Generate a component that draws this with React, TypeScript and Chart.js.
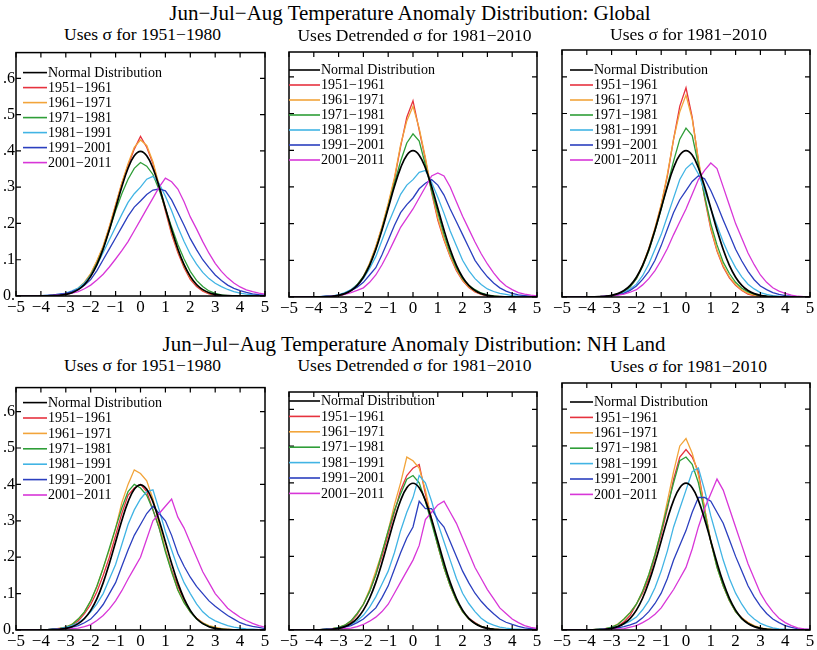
import React, { useEffect, useRef } from "react";
import { Chart, registerables } from "chart.js";

Chart.register(...registerables);

const SERIF = "'Liberation Serif', 'Times New Roman', serif";

const X = [-5,-4.75,-4.5,-4.25,-4,-3.75,-3.5,-3.25,-3,-2.75,-2.5,-2.25,-2,-1.75,-1.5,-1.25,-1,-0.75,-0.5,-0.25,0,0.25,0.5,0.75,1,1.25,1.5,1.75,2,2.25,2.5,2.75,3,3.25,3.5,3.75,4,4.25,4.5,4.75,5];
const X_TICKS = [-5,-4,-3,-2,-1,0,1,2,3,4,5];
const Y_TICKS = [0,0.1,0.2,0.3,0.4,0.5,0.6];

const LABELS = ["Normal Distribution","1951\u22121961","1961\u22121971","1971\u22121981","1981\u22121991","1991\u22122001","2001\u22122011"];
const COLORS = ["#000000","#e6323e","#f2a43a","#2f9e38","#41b4e4","#2b3fbf","#d836d8"];

const NORMAL = [0,0,0,0,0.0001,0.0004,0.0009,0.002, 0.0044,0.0091,0.0175,0.0317,0.054,0.0863,0.1295,0.1826,0.242,0.3011,0.3521,0.3867,0.3989,0.3867,0.3521,0.3011,0.242,0.1826,0.1295,0.0863,0.054,0.0317,0.0175,0.0091,0.0044, 0.002,0.0009,0.0004,0.0001,0,0,0,0];

// Global, sigma 1951-1980
const G1_1951 = [0,0,0,0,0,0.001,0.002,0.003, 0.005,0.01,0.02,0.036,0.06,0.095,0.135,0.19,0.25,0.31,0.36,0.405,0.44,0.41,0.365,0.3,0.235,0.17,0.12,0.078,0.046,0.026,0.013,0.006,0.002, 0,0,0,0,0,0,0,0];
const G1_1961 = [0,0,0,0,0,0.001,0.002,0.003, 0.006,0.012,0.022,0.038,0.062,0.097,0.138,0.192,0.252,0.312,0.365,0.41,0.43,0.415,0.37,0.305,0.24,0.175,0.125,0.082,0.05,0.03,0.016,0.008,0.004, 0.002,0.001,0,0,0,0,0,0];
const G1_1971 = [0,0,0,0,0,0.001,0.002,0.003, 0.005,0.01,0.02,0.035,0.058,0.09,0.13,0.182,0.235,0.282,0.322,0.352,0.368,0.358,0.335,0.292,0.242,0.19,0.142,0.102,0.068,0.043,0.026,0.014,0.007, 0.003,0.001,0,0,0,0,0,0];
const G1_1981 = [0,0,0,0,0.001,0.002,0.003,0.005, 0.008,0.014,0.022,0.036,0.056,0.085,0.12,0.155,0.19,0.225,0.258,0.282,0.3,0.322,0.33,0.31,0.275,0.235,0.19,0.15,0.115,0.088,0.065,0.048,0.035, 0.026,0.018,0.012,0.008,0.005,0.003,0.002,0.001];
const G1_1991 = [0,0,0,0,0.001,0.002,0.003,0.005, 0.007,0.012,0.018,0.03,0.045,0.07,0.1,0.13,0.16,0.19,0.22,0.245,0.262,0.28,0.292,0.295,0.29,0.265,0.23,0.195,0.158,0.128,0.1,0.078,0.058, 0.043,0.03,0.021,0.015,0.01,0.006,0.004,0.003];
const G1_2001 = [0,0,0,0,0.001,0.001,0.002,0.003, 0.005,0.008,0.012,0.02,0.03,0.044,0.06,0.08,0.102,0.125,0.15,0.18,0.21,0.24,0.27,0.3,0.325,0.315,0.295,0.26,0.218,0.185,0.15,0.118,0.09, 0.068,0.05,0.036,0.025,0.017,0.012,0.008,0.005];

// Global, detrended sigma 1981-2010
const G2_1951 = [0,0,0,0,0,0,0.001,0.002, 0.004,0.008,0.017,0.032,0.055,0.09,0.135,0.19,0.25,0.32,0.41,0.49,0.535,0.455,0.375,0.285,0.21,0.155,0.11,0.072,0.045,0.026,0.014,0.007,0.003, 0.001,0,0,0,0,0,0,0];
const G2_1961 = [0,0,0,0,0,0,0.001,0.002, 0.004,0.009,0.018,0.033,0.056,0.092,0.138,0.192,0.255,0.325,0.415,0.48,0.52,0.46,0.38,0.29,0.215,0.158,0.112,0.075,0.046,0.027,0.015,0.008,0.004, 0.002,0.001,0,0,0,0,0,0];
const G2_1971 = [0,0,0,0,0,0,0.001,0.002, 0.005,0.01,0.019,0.034,0.056,0.088,0.13,0.185,0.245,0.31,0.37,0.42,0.445,0.425,0.36,0.29,0.23,0.17,0.12,0.08,0.05,0.032,0.02,0.011,0.006, 0.003,0.001,0,0,0,0,0,0];
const G2_1981 = [0,0,0,0,0,0.001,0.002,0.003, 0.006,0.012,0.02,0.033,0.05,0.078,0.11,0.155,0.2,0.24,0.28,0.305,0.32,0.34,0.345,0.312,0.272,0.228,0.18,0.14,0.1,0.072,0.05,0.034,0.022, 0.015,0.01,0.007,0.004,0.002,0.001,0,0];
const G2_1991 = [0,0,0,0,0,0.001,0.002,0.003, 0.005,0.01,0.017,0.027,0.04,0.06,0.08,0.115,0.155,0.195,0.23,0.252,0.27,0.295,0.31,0.32,0.305,0.278,0.24,0.205,0.17,0.135,0.1,0.076,0.055, 0.038,0.025,0.016,0.01,0.006,0.004,0.002,0.001];
const G2_2001 = [0,0,0,0,0,0.001,0.001,0.002, 0.004,0.007,0.012,0.018,0.025,0.04,0.06,0.088,0.12,0.155,0.19,0.215,0.24,0.27,0.3,0.33,0.338,0.33,0.3,0.26,0.22,0.185,0.15,0.118,0.09, 0.066,0.045,0.03,0.02,0.012,0.008,0.005,0.003];

// Global, sigma 1981-2010
const G3_1951 = [0,0,0,0,0,0,0.001,0.002, 0.004,0.008,0.015,0.028,0.05,0.085,0.13,0.185,0.25,0.33,0.43,0.52,0.57,0.49,0.37,0.27,0.185,0.125,0.082,0.052,0.032,0.018,0.008,0.004,0.002, 0,0,0,0,0,0,0,0];
const G3_1961 = [0,0,0,0,0,0,0.001,0.002, 0.004,0.008,0.016,0.029,0.052,0.087,0.132,0.188,0.252,0.335,0.43,0.505,0.55,0.485,0.375,0.275,0.19,0.128,0.085,0.055,0.034,0.019,0.01,0.005,0.002, 0.001,0,0,0,0,0,0,0];
const G3_1971 = [0,0,0,0,0,0,0.001,0.002, 0.004,0.008,0.015,0.028,0.05,0.083,0.125,0.18,0.24,0.305,0.37,0.43,0.46,0.44,0.36,0.275,0.2,0.142,0.095,0.064,0.04,0.024,0.014,0.008,0.004, 0.002,0.001,0,0,0,0,0,0];
const G3_1981 = [0,0,0,0,0,0,0.001,0.002, 0.004,0.007,0.012,0.022,0.035,0.058,0.09,0.13,0.17,0.22,0.27,0.32,0.35,0.365,0.335,0.29,0.24,0.195,0.15,0.112,0.08,0.055,0.035,0.022,0.012, 0.007,0.004,0.002,0.001,0,0,0,0];
const G3_1991 = [0,0,0,0,0,0,0.001,0.002, 0.003,0.006,0.01,0.018,0.03,0.048,0.07,0.1,0.14,0.185,0.23,0.265,0.29,0.315,0.33,0.322,0.29,0.252,0.21,0.17,0.13,0.098,0.07,0.047,0.03, 0.02,0.012,0.007,0.004,0.002,0.001,0,0];
const G3_2001 = [0,0,0,0,0,0,0.001,0.002, 0.003,0.005,0.008,0.013,0.02,0.033,0.05,0.072,0.1,0.132,0.17,0.205,0.24,0.28,0.32,0.345,0.365,0.35,0.3,0.25,0.2,0.16,0.12,0.088,0.06, 0.04,0.025,0.016,0.01,0.005,0.002,0.001,0];

// NH Land, sigma 1951-1980
const N1_1951 = [0,0,0,0,0,0.001,0.002,0.004, 0.006,0.013,0.025,0.045,0.07,0.105,0.15,0.2,0.26,0.32,0.37,0.39,0.4,0.38,0.33,0.28,0.22,0.165,0.12,0.082,0.05,0.032,0.02,0.01,0.005, 0.002,0.001,0,0,0,0,0,0];
const N1_1961 = [0,0,0,0,0,0.001,0.002,0.005, 0.008,0.016,0.03,0.05,0.08,0.12,0.17,0.22,0.28,0.35,0.4,0.44,0.43,0.41,0.36,0.29,0.22,0.16,0.11,0.075,0.05,0.032,0.02,0.012,0.008, 0.004,0.002,0.001,0,0,0,0,0];
const N1_1971 = [0,0,0,0,0,0.001,0.002,0.004, 0.008,0.015,0.03,0.05,0.08,0.12,0.17,0.225,0.28,0.335,0.38,0.4,0.39,0.37,0.33,0.28,0.215,0.16,0.11,0.075,0.05,0.03,0.018,0.01,0.005, 0.002,0.001,0,0,0,0,0,0];
const N1_1981 = [0,0,0,0,0,0.001,0.002,0.004, 0.007,0.012,0.02,0.032,0.05,0.072,0.1,0.14,0.18,0.235,0.29,0.33,0.36,0.38,0.385,0.33,0.27,0.22,0.17,0.13,0.1,0.072,0.05,0.035,0.025, 0.018,0.012,0.008,0.005,0.003,0.002,0.001,0];
const N1_1991 = [0,0,0,0,0,0.001,0.002,0.003, 0.005,0.008,0.012,0.02,0.03,0.048,0.07,0.1,0.13,0.175,0.22,0.26,0.29,0.32,0.34,0.32,0.3,0.26,0.21,0.175,0.145,0.12,0.1,0.08,0.065, 0.052,0.04,0.03,0.02,0.014,0.01,0.007,0.004];
const N1_2001 = [0,0,0,0,0,0,0.001,0.002, 0.003,0.004,0.005,0.009,0.015,0.026,0.04,0.058,0.08,0.108,0.14,0.17,0.2,0.25,0.3,0.32,0.34,0.36,0.31,0.28,0.24,0.2,0.16,0.13,0.1, 0.08,0.06,0.047,0.035,0.026,0.018,0.012,0.008];

// NH Land, detrended sigma 1981-2010
const N2_1951 = [0,0,0,0,0,0.001,0.002,0.004, 0.006,0.012,0.022,0.042,0.07,0.105,0.15,0.2,0.26,0.32,0.38,0.42,0.44,0.45,0.37,0.3,0.23,0.17,0.12,0.08,0.05,0.032,0.02,0.01,0.005, 0.002,0.001,0,0,0,0,0,0];
const N2_1961 = [0,0,0,0,0,0.001,0.002,0.004, 0.007,0.013,0.025,0.045,0.07,0.11,0.16,0.21,0.27,0.34,0.4,0.47,0.46,0.44,0.38,0.3,0.23,0.17,0.12,0.08,0.05,0.03,0.018,0.01,0.005, 0.002,0.001,0,0,0,0,0,0];
const N2_1971 = [0,0,0,0,0,0.001,0.002,0.004, 0.007,0.013,0.025,0.045,0.07,0.105,0.15,0.21,0.27,0.325,0.37,0.41,0.42,0.4,0.35,0.29,0.23,0.17,0.12,0.08,0.05,0.03,0.018,0.01,0.005, 0.002,0.001,0,0,0,0,0,0];
const N2_1981 = [0,0,0,0,0,0.001,0.002,0.003, 0.005,0.009,0.015,0.025,0.04,0.062,0.09,0.125,0.16,0.21,0.27,0.32,0.36,0.42,0.4,0.35,0.29,0.24,0.19,0.14,0.1,0.072,0.05,0.032,0.02, 0.013,0.008,0.005,0.003,0.002,0.001,0,0];
const N2_1991 = [0,0,0,0,0,0.001,0.002,0.003, 0.005,0.008,0.012,0.02,0.03,0.045,0.06,0.088,0.12,0.165,0.21,0.25,0.28,0.35,0.33,0.33,0.3,0.28,0.24,0.2,0.16,0.128,0.1,0.078,0.06, 0.044,0.03,0.021,0.015,0.01,0.006,0.004,0.002];
const N2_2001 = [0,0,0,0,0,0,0.001,0.002, 0.003,0.004,0.005,0.009,0.015,0.024,0.035,0.05,0.07,0.1,0.13,0.16,0.19,0.23,0.3,0.32,0.34,0.35,0.32,0.29,0.25,0.21,0.17,0.14,0.11, 0.085,0.06,0.045,0.03,0.02,0.012,0.007,0.004];

// NH Land, sigma 1981-2010
const N3_1951 = [0,0,0,0,0,0.001,0.002,0.003, 0.005,0.01,0.022,0.04,0.07,0.1,0.14,0.2,0.26,0.33,0.41,0.47,0.49,0.47,0.43,0.33,0.24,0.175,0.12,0.08,0.05,0.032,0.02,0.01,0.005, 0.002,0.001,0,0,0,0,0,0];
const N3_1961 = [0,0,0,0,0,0.001,0.002,0.004, 0.008,0.016,0.03,0.048,0.07,0.105,0.15,0.205,0.27,0.35,0.43,0.5,0.52,0.48,0.42,0.33,0.24,0.17,0.12,0.08,0.05,0.033,0.02,0.012,0.006, 0.003,0.001,0,0,0,0,0,0];
const N3_1971 = [0,0,0,0,0,0.001,0.002,0.004, 0.008,0.015,0.03,0.047,0.07,0.105,0.15,0.205,0.27,0.335,0.4,0.46,0.47,0.45,0.4,0.32,0.24,0.17,0.12,0.08,0.05,0.03,0.018,0.01,0.005, 0.002,0.001,0,0,0,0,0,0];
const N3_1981 = [0,0,0,0,0,0.001,0.002,0.003, 0.005,0.01,0.016,0.024,0.035,0.055,0.08,0.115,0.16,0.215,0.28,0.33,0.38,0.43,0.44,0.38,0.31,0.25,0.19,0.14,0.1,0.07,0.045,0.03,0.018, 0.011,0.006,0.003,0.002,0.001,0,0,0];
const N3_1991 = [0,0,0,0,0,0,0.001,0.002, 0.004,0.006,0.009,0.014,0.02,0.033,0.05,0.072,0.1,0.14,0.19,0.23,0.27,0.32,0.36,0.36,0.35,0.32,0.29,0.245,0.2,0.16,0.12,0.09,0.065, 0.045,0.03,0.02,0.012,0.007,0.004,0.002,0.001];
const N3_2001 = [0,0,0,0,0,0,0.001,0.002, 0.003,0.003,0.004,0.008,0.012,0.02,0.03,0.043,0.06,0.085,0.11,0.14,0.17,0.22,0.28,0.33,0.37,0.41,0.38,0.33,0.28,0.23,0.18,0.14,0.1, 0.072,0.05,0.032,0.02,0.012,0.006,0.003,0.002];

const MAIN_TITLES = [
  "Jun\u2212Jul\u2212Aug Temperature Anomaly Distribution: Global",
  "Jun\u2212Jul\u2212Aug Temperature Anomaly Distribution: NH Land",
];
const SUBTITLES = [
  "Uses \u03c3 for 1951\u22121980",
  "Uses Detrended \u03c3 for 1981\u22122010",
  "Uses \u03c3 for 1981\u22122010",
];

type PanelDef = {
  series: number[][];
  box: [number, number, number, number]; // left, top, right, bottom
  ymax: number;
  showY: boolean;
  legendLine: number;
  legendTop: number;
  rowH: number;
  sub: string;
  subCenter: number;
  subTop: number;
};

const PANELS: PanelDef[] = [
  { series: [NORMAL, G1_1951, G1_1961, G1_1971, G1_1981, G1_1991, G1_2001], box: [16, 50, 265, 296], ymax: 0.671, showY: true, legendLine: 7, legendTop: 20, rowH: 15, sub: SUBTITLES[0], subCenter: 142.5, subTop: 25.5 },
  { series: [NORMAL, G2_1951, G2_1961, G2_1971, G2_1981, G2_1991, G2_2001], box: [289, 52, 537, 297], ymax: 0.668, showY: false, legendLine: 0, legendTop: 18, rowH: 15, sub: SUBTITLES[1], subCenter: 414.5, subTop: 27 },
  { series: [NORMAL, G3_1951, G3_1961, G3_1971, G3_1981, G3_1991, G3_2001], box: [562, 50, 810, 297], ymax: 0.673, showY: false, legendLine: 8, legendTop: 20, rowH: 15, sub: SUBTITLES[2], subCenter: 688.5, subTop: 25.5 },
  { series: [NORMAL, N1_1951, N1_1961, N1_1971, N1_1981, N1_1991, N1_2001], box: [16, 385, 265, 630], ymax: 0.666, showY: true, legendLine: 7, legendTop: 15, rowH: 15.4, sub: SUBTITLES[0], subCenter: 142.5, subTop: 357 },
  { series: [NORMAL, N2_1951, N2_1961, N2_1971, N2_1981, N2_1991, N2_2001], box: [289, 392, 537, 630], ymax: 0.647, showY: false, legendLine: 0, legendTop: 9, rowH: 15.4, sub: SUBTITLES[1], subCenter: 414.5, subTop: 357 },
  { series: [NORMAL, N3_1951, N3_1961, N3_1971, N3_1981, N3_1991, N3_2001], box: [562, 383, 810, 630], ymax: 0.671, showY: false, legendLine: 8, legendTop: 19, rowH: 15.4, sub: SUBTITLES[2], subCenter: 688.5, subTop: 358 },
];

const PAD_LEFT = 16;
const PAD_TOP = 8;
const PAD_RIGHT = 6;
const PAD_BOTTOM = 22;

const framePlugin = {
  id: "frameTicks",
  afterDatasetsDraw(chart: any) {
    const { ctx, chartArea } = chart;
    const xs = chart.scales.x;
    const ys = chart.scales.y;
    const { left, right, top, bottom } = chartArea;
    ctx.save();
    ctx.strokeStyle = "#000";
    ctx.lineWidth = 1.2;
    ctx.beginPath();
    X_TICKS.forEach((v) => {
      const px = xs.getPixelForValue(v);
      ctx.moveTo(px, bottom);
      ctx.lineTo(px, bottom - 5);
      ctx.moveTo(px, top);
      ctx.lineTo(px, top + 5);
    });
    Y_TICKS.forEach((v) => {
      const py = ys.getPixelForValue(v);
      ctx.moveTo(left, py);
      ctx.lineTo(left + 5, py);
      ctx.moveTo(right, py);
      ctx.lineTo(right - 5, py);
    });
    ctx.stroke();
    ctx.lineWidth = 1.5;
    ctx.strokeRect(left, top, right - left, bottom - top);
    ctx.restore();
  },
};

const legendPlugin = {
  id: "insideLegend",
  afterDraw(chart: any, _args: any, opts: any) {
    const { ctx, chartArea } = chart;
    ctx.save();
    ctx.font = `14px ${SERIF}`;
    ctx.textBaseline = "middle";
    ctx.textAlign = "left";
    LABELS.forEach((label, i) => {
      const y = chartArea.top + opts.top + i * opts.rowH;
      ctx.strokeStyle = COLORS[i];
      ctx.lineWidth = 1.6;
      ctx.beginPath();
      ctx.moveTo(chartArea.left + opts.line, y);
      ctx.lineTo(chartArea.left + 31, y);
      ctx.stroke();
      ctx.fillStyle = "#000";
      ctx.fillText(label, chartArea.left + 32, y + 0.5);
    });
    ctx.restore();
  },
};

function fmtX(v: number) {
  return v < 0 ? "\u2212" + Math.abs(v) : String(v);
}
function fmtY(v: number) {
  return v === 0 ? "0." : "." + Math.round(v * 10);
}

function Panel({ def }: { def: PanelDef }) {
  const ref = useRef<HTMLCanvasElement>(null);
  const [bl, bt, br, bb] = def.box;
  const W = PAD_LEFT + (br - bl) + PAD_RIGHT;
  const H = PAD_TOP + (bb - bt) + PAD_BOTTOM;

  useEffect(() => {
    if (!ref.current) return;
    const order = [0, 6, 5, 4, 3, 2, 1];
    const datasets = order.map((si) => ({
      label: LABELS[si],
      data: X.map((x, i) => ({ x, y: def.series[si][i] })),
      borderColor: COLORS[si],
      backgroundColor: COLORS[si],
      borderWidth: si === 0 ? 1.7 : 1.3,
      pointRadius: 0,
      tension: si === 0 ? 0.4 : 0,
      fill: false,
    }));
    const chart = new Chart(ref.current, {
      type: "line",
      data: { datasets },
      plugins: [framePlugin, legendPlugin],
      options: {
        animation: false,
        responsive: false,
        maintainAspectRatio: false,
        layout: { padding: { top: PAD_TOP, right: PAD_RIGHT, left: 0, bottom: 0 } },
        plugins: {
          legend: { display: false },
          tooltip: { enabled: false },
          title: { display: false },
          insideLegend: { top: def.legendTop, rowH: def.rowH, line: def.legendLine },
        } as any,
        scales: {
          x: {
            type: "linear",
            min: -5,
            max: 5,
            grid: { display: false, drawTicks: false },
            border: { display: false },
            afterBuildTicks: (s: any) => {
              s.ticks = X_TICKS.map((v) => ({ value: v }));
            },
            afterFit: (s: any) => {
              s.height = PAD_BOTTOM;
            },
            ticks: {
              color: "#000",
              font: { family: SERIF, size: 17 },
              padding: 1,
              maxRotation: 0,
              autoSkip: false,
              callback: (v: any) => fmtX(Number(v)),
            },
          },
          y: {
            type: "linear",
            min: 0,
            max: def.ymax,
            grid: { display: false, drawTicks: false },
            border: { display: false },
            afterBuildTicks: (s: any) => {
              s.ticks = Y_TICKS.map((v) => ({ value: v }));
            },
            afterFit: (s: any) => {
              s.width = PAD_LEFT;
            },
            ticks: {
              display: def.showY,
              color: "#000",
              font: { family: SERIF, size: 16 },
              padding: 1,
              autoSkip: false,
              callback: (v: any) => fmtY(Number(v)),
            },
          },
        },
      } as any,
    });
    return () => chart.destroy();
  }, []);

  return (
    <>
      <div
        style={{
          position: "absolute",
          left: def.subCenter - 150,
          top: def.subTop,
          width: 300,
          textAlign: "center",
          fontFamily: SERIF,
          fontSize: 17.5,
          lineHeight: "17.5px",
          color: "#000",
          whiteSpace: "nowrap",
        }}
      >
        {def.sub}
      </div>
      <canvas
        ref={ref}
        width={W}
        height={H}
        style={{ position: "absolute", left: bl - PAD_LEFT, top: bt - PAD_TOP, width: W, height: H }}
      />
    </>
  );
}

export default function App() {
  return (
    <div
      style={{
        position: "absolute",
        left: 0,
        top: 0,
        width: 817,
        height: 650,
        background: "#fff",
        overflow: "hidden",
      }}
    >
      <div
        style={{
          position: "absolute",
          left: 110,
          top: 2.5,
          width: 600,
          textAlign: "center",
          fontFamily: SERIF,
          fontSize: 21,
          lineHeight: "21px",
          color: "#000",
          whiteSpace: "nowrap",
        }}
      >
        {MAIN_TITLES[0]}
      </div>
      <div
        style={{
          position: "absolute",
          left: 114,
          top: 334,
          width: 600,
          textAlign: "center",
          fontFamily: SERIF,
          fontSize: 21,
          lineHeight: "21px",
          color: "#000",
          whiteSpace: "nowrap",
        }}
      >
        {MAIN_TITLES[1]}
      </div>
      {PANELS.map((p, i) => (
        <Panel key={i} def={p} />
      ))}
    </div>
  );
}
